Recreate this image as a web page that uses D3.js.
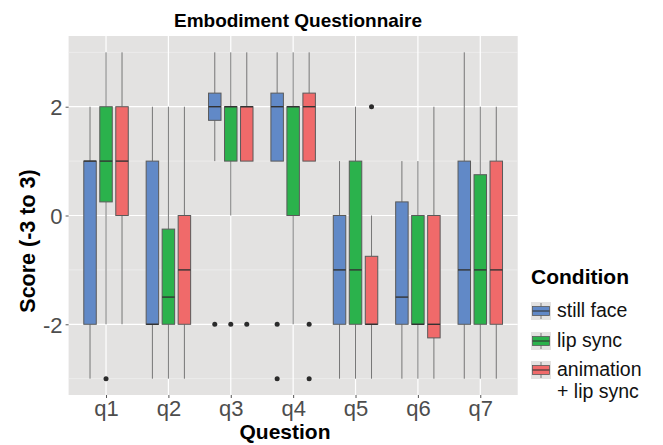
<!DOCTYPE html>
<meta charset="utf-8">
<style>
  body { margin: 0; background: #fff; }
  text { font-family: "Liberation Sans", Arial, sans-serif; }
</style>
<script src="https://d3js.org/d3.v7.min.js"></script>
<div id="chart"></div>
<script>
// questions and conditions
var questions = ["q1", "q2", "q3", "q4", "q5", "q6", "q7"];
var conditions = ["still face", "lip sync", "animation + lip sync"];
var colors = ["#6189c7", "#2bb24c", "#f06a6a"];

// box stats per condition, one row per question: [low whisker, q1, median, q3, high whisker]
var stillFace = [
  [-3, -2, 1, 1, 2],
  [-3, -2, -2, 1, 2],
  [1, 1.75, 2, 2.25, 3],
  [1, 1, 2, 2.25, 3],
  [-3, -2, -1, 0, 1],
  [-3, -2, -1.5, 0.25, 1],
  [-3, -2, -1, 1, 3]
];
var lipSync = [
  [-2, 0.25, 1, 2, 3],
  [-3, -2, -1.5, -0.25, 2],
  [0, 1, 2, 2, 3],
  [-2, 0, 2, 2, 3],
  [-3, -2, -1, 1, 2],
  [-3, -2, -2, 0, 1],
  [-3, -2, -1, 0.75, 2]
];
var animation = [
  [-2, 0, 1, 2, 3],
  [-3, -2, -1, 0, 2],
  [1, 1, 2, 2, 3],
  [1, 1, 2, 2.25, 3],
  [-3, -2, -2, -0.75, 0],
  [-3, -2.25, -2, 0, 2],
  [-3, -2, -1, 1, 2]
];
// outliers per condition, one list per question
var stillFaceOut = [[], [], [-2], [-2, -3], [], [], []];
var lipSyncOut = [[-3], [], [-2], [], [], [], []];
var animationOut = [[], [], [-2], [-2, -3], [2], [], []];

var yTicks = [-2, 0, 2];
var yTickLabels = ["-2", "0", "2"];
var yMinor = [-3, -1, 1, 3];

var series = [stillFace, lipSync, animation];
var outliers = [stillFaceOut, lipSyncOut, animationOut];

var W = 663, H = 445;
var pLeft = 68.6, pRight = 517.7, pTop = 36, pBottom = 395;

var svg = d3.select("#chart").append("svg")
  .attr("width", W).attr("height", H);

var x = d3.scalePoint().domain(questions).range([pLeft, pRight]).padding(0.6);
var dodge = d3.scaleBand().domain(d3.range(conditions.length)).range([-24, 24]);
var boxW = dodge.bandwidth() * 0.78;
var y = d3.scaleLinear().domain([-3.3, 3.3]).range([pBottom, pTop]);

// panel
svg.append("rect")
  .attr("x", pLeft).attr("y", pTop)
  .attr("width", pRight - pLeft).attr("height", pBottom - pTop)
  .attr("fill", "#e3e2e1");

svg.selectAll(".minor").data(yMinor).enter().append("line")
  .attr("x1", pLeft).attr("x2", pRight)
  .attr("y1", function(d) { return y(d); }).attr("y2", function(d) { return y(d); })
  .attr("stroke", "#f1f1f0").attr("stroke-width", 0.7);

svg.selectAll(".major").data(yTicks).enter().append("line")
  .attr("x1", pLeft).attr("x2", pRight)
  .attr("y1", function(d) { return y(d); }).attr("y2", function(d) { return y(d); })
  .attr("stroke", "#fff").attr("stroke-width", 1.2);

svg.selectAll(".vgrid").data(questions).enter().append("line")
  .attr("x1", function(d) { return x(d); }).attr("x2", function(d) { return x(d); })
  .attr("y1", pTop).attr("y2", pBottom)
  .attr("stroke", "#fff").attr("stroke-width", 1.2);

// boxes
series.forEach(function(s, ci) {
  var g = svg.append("g");
  s.forEach(function(st, qi) {
    var cx = x(questions[qi]) + dodge(ci) + dodge.bandwidth() / 2;
    g.append("line")
      .attr("x1", cx).attr("x2", cx)
      .attr("y1", y(st[4])).attr("y2", y(st[3]))
      .attr("stroke", "#767676").attr("stroke-width", 1);
    g.append("line")
      .attr("x1", cx).attr("x2", cx)
      .attr("y1", y(st[1])).attr("y2", y(st[0]))
      .attr("stroke", "#767676").attr("stroke-width", 1);
    g.append("rect")
      .attr("x", cx - boxW / 2).attr("width", boxW)
      .attr("y", y(st[3])).attr("height", Math.max(0, y(st[1]) - y(st[3])))
      .attr("fill", colors[ci]).attr("stroke", "#5a5a5a").attr("stroke-width", 1);
    g.append("line")
      .attr("x1", cx - boxW / 2).attr("x2", cx + boxW / 2)
      .attr("y1", y(st[2])).attr("y2", y(st[2]))
      .attr("stroke", "#333").attr("stroke-width", 1.4);
    outliers[ci][qi].forEach(function(o) {
      g.append("circle")
        .attr("cx", cx).attr("cy", y(o)).attr("r", 2.5)
        .attr("fill", "#2b2b2b");
    });
  });
});

// axes
var yAxis = svg.append("g")
  .attr("transform", "translate(" + pLeft + ",0)")
  .call(d3.axisLeft(y).tickValues(yTicks)
    .tickFormat(function(d, i) { return yTickLabels[i]; })
    .tickSize(3).tickPadding(3));
var xAxis = svg.append("g")
  .attr("transform", "translate(0," + pBottom + ")")
  .call(d3.axisBottom(x).tickSize(3).tickPadding(2));
[yAxis, xAxis].forEach(function(a) {
  a.select(".domain").remove();
  a.selectAll(".tick line").attr("stroke", "#555");
  a.selectAll(".tick text")
    .attr("fill", "#4d4d4d")
    .style("font-size", "22px")
    .style("font-family", "'Liberation Sans', Arial, sans-serif");
});
yAxis.selectAll(".tick text").attr("dy", "0.36em");
xAxis.selectAll(".tick text").attr("dy", "0.72em");

// titles
svg.append("text")
  .attr("x", 298).attr("y", 27)
  .attr("text-anchor", "middle")
  .style("font-size", "19px").style("font-weight", "bold")
  .text("Embodiment Questionnaire");

svg.append("text")
  .attr("x", 285).attr("y", 439)
  .attr("text-anchor", "middle")
  .style("font-size", "21px").style("font-weight", "bold")
  .text("Question");

svg.append("text")
  .attr("transform", "translate(35,241) rotate(-90)")
  .attr("text-anchor", "middle")
  .style("font-size", "21.5px").style("font-weight", "bold")
  .text("Score (-3 to 3)");

// legend
var leg = svg.append("g").attr("transform", "translate(531,0)");
leg.append("text")
  .attr("x", 0).attr("y", 284)
  .style("font-size", "21px").style("font-weight", "bold")
  .text("Condition");

var keyY = [311, 341, 370];
var labelLines = [["still face"], ["lip sync"], ["animation", "+ lip sync"]];
conditions.forEach(function(c, i) {
  var k = leg.append("g").attr("transform", "translate(0," + (keyY[i] - 9) + ")");
  k.append("rect").attr("width", 20).attr("height", 18).attr("fill", "#e3e2e1");
  k.append("line").attr("x1", 10).attr("x2", 10).attr("y1", 1).attr("y2", 17)
    .attr("stroke", "#7a7a7a");
  k.append("rect").attr("x", 1.5).attr("y", 4.5).attr("width", 17).attr("height", 9)
    .attr("fill", colors[i]).attr("stroke", "#5a5a5a").attr("stroke-width", 0.8);
  k.append("line").attr("x1", 1.5).attr("x2", 18.5).attr("y1", 9).attr("y2", 9)
    .attr("stroke", "#333").attr("stroke-width", 1.1);
  labelLines[i].forEach(function(t, j) {
    leg.append("text")
      .attr("x", 26).attr("y", keyY[i] + 6 + j * 22)
      .style("font-size", "19.5px").attr("fill", "#111")
      .text(t);
  });
});
</script>
